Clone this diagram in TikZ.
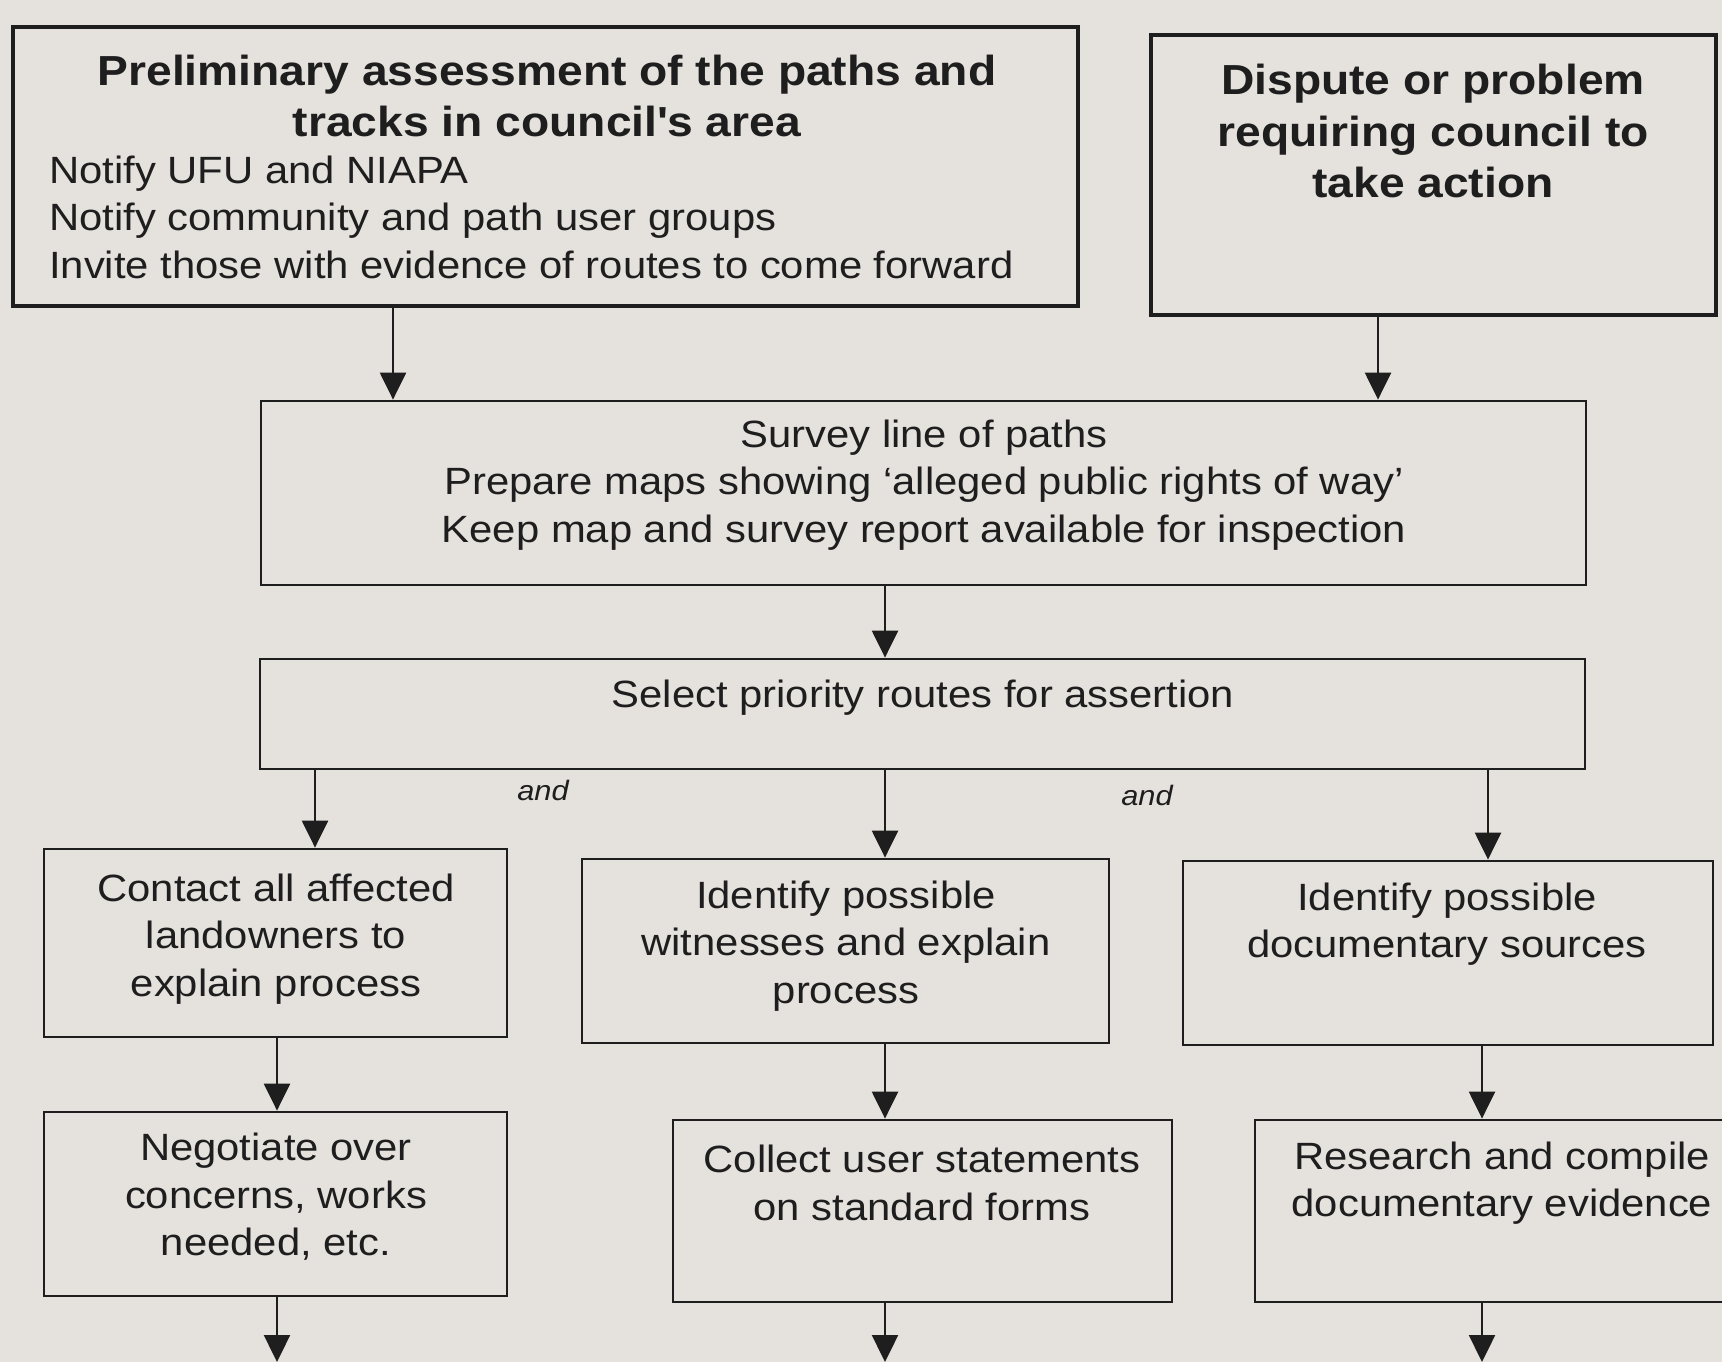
\documentclass[tikz,border=0pt]{standalone}
\usepackage{fontspec}
\setmainfont[FakeStretch=1.1]{Liberation Sans}
\usetikzlibrary{arrows.meta}
\definecolor{bgc}{HTML}{E5E1DD}
\definecolor{ink}{HTML}{1E1E1E}
\begin{document}
\begin{tikzpicture}[x=1pt,y=-1pt,
  boxthick/.style={draw=ink,line width=4pt,rectangle,inner sep=0pt},
  boxthin/.style={draw=ink,line width=2.8pt,rectangle,inner sep=0pt},
  reg/.style={text=ink,inner sep=0pt,align=center,font=\fontsize{38}{47.5}\selectfont},
  hd/.style={text=ink,inner sep=0pt,align=center,font=\fontsize{42}{51.5}\selectfont\bfseries},
  andlbl/.style={text=ink,inner sep=0pt,font=\fontsize{28}{30}\selectfont\itshape},
  arr/.style={draw=ink,line width=2.4pt,-{Triangle[length=27pt,width=26pt]}}]
\fill[bgc] (0,0) rectangle (1722,1362);
\useasboundingbox (0,0) rectangle (1722,1362);

% boxes
\node[boxthick,minimum width=1065pt,minimum height=279pt] (b1) at (545.5,166.5) {};
\node[boxthick,minimum width=565pt,minimum height=280pt] (b2) at (1433.5,175) {};
\node[boxthin,minimum width=1325pt,minimum height=184pt] (survey) at (923.5,493) {};
\node[boxthin,minimum width=1325pt,minimum height=110pt] (select) at (922.5,714) {};
\node[boxthin,minimum width=463pt,minimum height=188pt] (contact) at (275.5,943) {};
\node[boxthin,minimum width=527pt,minimum height=184pt] (witness) at (845.5,951) {};
\node[boxthin,minimum width=530pt,minimum height=184pt] (doc) at (1448,953) {};
\node[boxthin,minimum width=463pt,minimum height=184pt] (negot) at (275.5,1204) {};
\node[boxthin,minimum width=499pt,minimum height=182pt] (collect) at (922.5,1211) {};
\node[boxthin,minimum width=495pt,minimum height=182pt] (research) at (1502.5,1211) {};

% texts
\node[hd] (t1a) at (547,96) {Preliminary assessment of the paths and\\tracks in council\textquotesingle s area};
\node[reg,align=left,anchor=west] (t1b) at (49,217) {Notify UFU and NIAPA\\Notify community and path user groups\\Invite those with evidence of routes to come forward};
\node[hd] (t2) at (1433,131) {Dispute or problem\\requiring council to\\take action};
\node[reg] (t3) at (924,485) {Survey line of paths\\Prepare maps showing `alleged public rights of way'\\Keep map and survey report available for inspection};
\node[reg] (t4) at (923,698) {Select priority routes for assertion};
\node[reg] (t5) at (276,939) {Contact all affected\\landowners to\\explain process};
\node[reg] (t6) at (846,946) {Identify possible\\witnesses and explain\\process};
\node[reg] (t7) at (1447,924) {Identify possible\\documentary sources};
\node[reg] (t8) at (276,1197) {Negotiate over\\concerns, works\\needed, etc.};
\node[reg] (t9) at (922,1183) {Collect user statements\\on standard forms};
\node[reg] (t10) at (1502,1183) {Research and compile\\documentary evidence};
\node[andlbl] (and1) at (543,790) {and};
\node[andlbl] (and2) at (1147,795) {and};

% x positions of connectors
\coordinate (xa) at (393,0);
\coordinate (xb) at (1378,0);
\coordinate (xc) at (885,0);
\coordinate (xd) at (315,0);
\coordinate (xe) at (1488,0);
\coordinate (xf) at (277,0);
\coordinate (xg) at (1482,0);
\coordinate (e1) at (277,1362);
\coordinate (e2) at (885,1362);
\coordinate (e3) at (1482,1362);

\draw[arr] (b1.south -| xa) -- (survey.north -| xa);
\draw[arr] (b2.south -| xb) -- (survey.north -| xb);
\draw[arr] (survey.south -| xc) -- (select.north -| xc);
\draw[arr] (select.south -| xd) -- (contact.north -| xd);
\draw[arr] (select.south -| xc) -- (witness.north -| xc);
\draw[arr] (select.south -| xe) -- (doc.north -| xe);
\draw[arr] (contact.south -| xf) -- (negot.north -| xf);
\draw[arr] (witness.south -| xc) -- (collect.north -| xc);
\draw[arr] (doc.south -| xg) -- (research.north -| xg);
\draw[arr] (negot.south -| xf) -- (e1);
\draw[arr] (collect.south -| xc) -- (e2);
\draw[arr] (research.south -| xg) -- (e3);
\end{tikzpicture}
\end{document}
